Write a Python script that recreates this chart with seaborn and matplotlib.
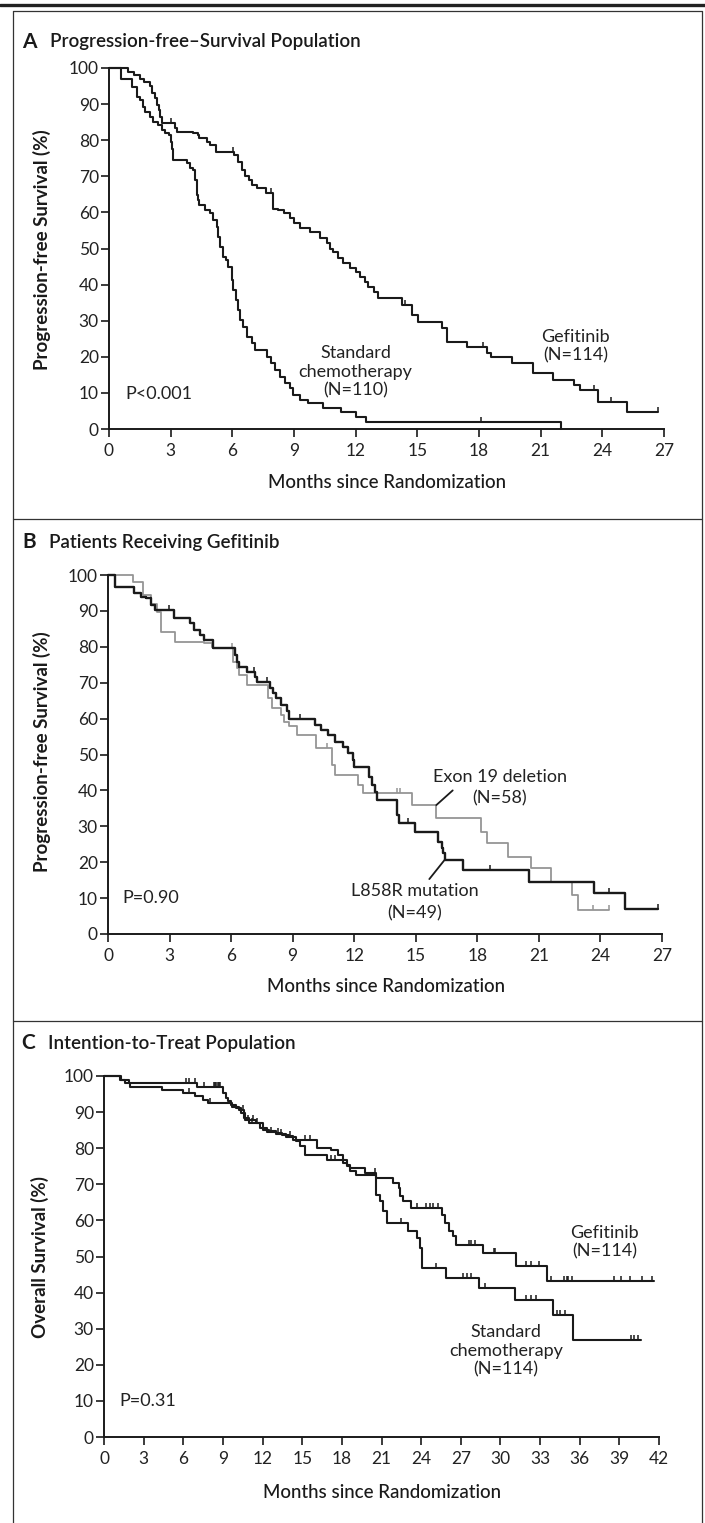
import numpy as np
import matplotlib
matplotlib.use("Agg")
import matplotlib.pyplot as plt
import seaborn as sns
from matplotlib import font_manager
from matplotlib.lines import Line2D

# ---------------------------------------------------------------------------
# data (months, percent)
# ---------------------------------------------------------------------------
# Panel A: progression-free survival
a_gef_t = [0, 0.9, 1.2, 1.5, 1.7, 2.0, 2.1, 2.25, 2.35, 2.45, 2.5, 2.6, 3.2, 3.3, 4.1,
           4.35, 4.4, 4.75, 4.9, 5.2, 6.1, 6.3, 6.45, 6.6, 6.8, 6.95, 7.2, 7.65, 8.0,
           8.2, 8.5, 8.8, 9.0, 9.3, 9.8, 10.25, 10.6, 10.75, 10.9, 11.15, 11.4, 11.7,
           12.0, 12.2, 12.45, 12.6, 12.9, 13.1, 14.24, 14.72, 15.05, 16.18, 16.42,
           17.4, 18.37, 18.6, 19.6, 20.64, 21.6, 22.6, 22.9, 23.8, 25.2]
a_gef_s = [100, 99, 98, 97, 96, 95, 93, 91.6, 89.7, 88.4, 86.5, 84.7, 83.3, 82.4, 81.9,
           81.4, 80.5, 79.6, 78.7, 76.8, 76.0, 74.0, 71.7, 70.0, 69.0, 67.6, 66.7, 65.3,
           61.0, 60.7, 59.7, 58.4, 57.0, 55.6, 54.7, 52.8, 51.4, 50.0, 49.0, 47.3, 45.9,
           44.5, 43.6, 42.2, 40.8, 39.4, 38.0, 36.2, 34.3, 31.6, 29.7, 27.9, 24.2, 22.8,
           21.0, 20.0, 18.2, 15.4, 13.6, 12.2, 10.8, 7.6, 4.8]
a_gef_end = 26.7
a_gef_cens = [3.0, 6.05, 7.9, 10.6, 14.4, 18.2, 23.6, 24.4, 26.7]

a_chemo_t = [0, 0.6, 1.1, 1.35, 1.5, 1.67, 1.75, 2.0, 2.16, 2.4, 2.56, 2.7, 2.9, 3.0,
             3.05, 3.13, 3.8, 3.95, 4.1, 4.2, 4.26, 4.35, 4.4, 4.67, 4.9, 5.07, 5.23,
             5.3, 5.4, 5.56, 5.7, 5.8, 5.96, 6.05, 6.2, 6.3, 6.37, 6.53, 6.7, 6.94, 7.1,
             7.67, 7.9, 8.07, 8.3, 8.56, 8.8, 8.96, 9.3, 9.7, 10.4, 11.3, 12.0, 12.5, 22.0]
a_chemo_s = [100, 97, 94.8, 92.0, 91.0, 89.3, 87.9, 86.5, 85.1, 84.2, 82.8, 81.9, 81.4,
             79.6, 77.7, 74.5, 73.6, 72.2, 71.7, 69.0, 64.8, 63.4, 62.0, 60.7, 59.7, 57.9,
             56.0, 53.3, 50.5, 47.7, 46.8, 45.0, 41.3, 38.5, 35.7, 33.0, 30.2, 28.3, 25.6,
             23.7, 21.9, 20.0, 18.2, 16.3, 14.5, 12.7, 11.3, 9.4, 8.0, 7.1, 5.7, 4.8, 3.4,
             2.0, 0.0]
a_chemo_end = 22.0
a_chemo_cens = [18.1]

# Panel B: gefitinib patients by mutation type
b_l858r_t = [0, 0.34, 1.25, 1.6, 1.85, 2.1, 2.3, 3.2, 4.0, 4.2, 4.5, 4.7, 5.1, 6.2, 6.3,
             6.4, 6.75, 7.15, 7.25, 7.9, 8.05, 8.2, 8.45, 8.7, 8.8, 10.1, 10.4, 10.7,
             11.05, 11.45, 11.7, 11.95, 12.0, 12.7, 12.85, 13.0, 13.1, 14.1, 14.2, 14.96,
             16.1, 16.3, 16.35, 16.4, 17.3, 20.5, 23.7, 25.2]
b_l858r_s = [100, 96.7, 94.9, 94.0, 93.5, 91.6, 90.2, 88.0, 86.5, 84.7, 83.3, 81.9, 79.6,
             77.7, 75.9, 74.5, 73.0, 71.7, 70.3, 68.4, 67.0, 65.6, 63.8, 62.0, 60.0, 58.2,
             56.8, 55.4, 53.6, 52.2, 50.3, 48.5, 46.6, 43.8, 41.5, 39.6, 37.3, 33.1, 30.8,
             28.5, 25.7, 23.9, 22.5, 20.6, 17.8, 14.6, 11.3, 7.1]
b_l858r_end = 26.8
b_l858r_cens = [2.95, 7.1, 7.75, 9.35, 14.64, 18.6, 24.4, 26.8]

b_exon19_t = [0, 1.23, 1.72, 2.1, 2.37, 2.6, 3.26, 4.7, 5.05, 5.1, 6.1, 6.27, 6.4, 6.75,
              7.8, 8.0, 8.45, 8.6, 8.8, 9.2, 10.15, 10.9, 11.05, 12.2, 12.45, 14.8, 16.0,
              18.2, 18.46, 19.5, 20.6, 21.6, 22.6, 22.9]
b_exon19_s = [100, 98.1, 94.4, 92.0, 89.8, 84.2, 81.4, 81.0, 80.0, 79.6, 75.9, 74.0, 72.1,
              69.4, 65.6, 62.9, 61.0, 59.1, 57.8, 55.4, 51.7, 47.1, 44.3, 41.5, 39.2, 35.9,
              32.2, 28.5, 25.3, 21.5, 18.3, 14.6, 10.9, 6.7]
b_exon19_end = 24.4
b_exon19_cens = [6.02, 10.65, 14.1, 14.23, 23.65, 24.4]

# Panel C: overall survival
c_gef_t = [0, 1.3, 1.9, 7.0, 9.0, 9.2, 9.4, 9.6, 10.0, 10.4, 10.7, 11.5, 12.0, 12.5, 13.0,
           13.5, 14.0, 14.3, 16.1, 17.2, 17.7, 18.1, 18.4, 18.6, 19.75, 20.6, 21.9, 22.3,
           22.4, 22.6, 23.2, 25.6, 25.8, 26.1, 26.4, 26.6, 28.7, 31.2, 33.5]
c_gef_s = [100, 99, 98.1, 96.9, 95.3, 94.0, 93.0, 92.0, 91.0, 89.8, 87.9, 87.0, 85.1, 84.7,
           84.2, 83.7, 83.3, 82.4, 80.0, 79.6, 78.2, 76.8, 75.4, 74.5, 73.1, 71.7, 70.4,
           69.0, 66.7, 65.3, 63.4, 61.6, 59.3, 57.0, 55.6, 53.3, 51.0, 47.3, 43.1]
c_gef_end = 41.6
c_gef_cens = [6.2, 6.4, 6.9, 7.6, 8.3, 8.4, 8.5, 8.6, 8.7, 8.8, 10.9, 11.3, 11.6, 13.2, 14.1,
              15.2, 15.6, 20.5, 23.7, 24.4, 24.7, 24.9, 25.3, 27.6, 27.8, 28.1, 29.5, 29.6,
              31.9, 32.3, 32.9, 33.8, 34.8, 35.0, 35.15, 35.4, 38.6, 39.1, 39.8, 40.7, 41.5]

c_chemo_t = [0, 1.2, 1.6, 2.0, 4.4, 6.0, 6.9, 7.5, 7.9, 9.7, 10.2, 10.6, 11.0, 11.8, 12.3,
             13.0, 13.8, 14.5, 14.84, 15.2, 16.9, 18.1, 18.4, 18.6, 19.1, 20.6, 20.9, 21.1,
             21.4, 23.0, 23.7, 23.9, 24.05, 25.9, 28.4, 31.1, 34.0, 35.5]
c_chemo_s = [100, 99, 98.1, 96.9, 96.2, 95.3, 94.4, 93.4, 92.5, 91.5, 90.5, 88.5, 87.0,
             85.5, 84.5, 83.8, 83.0, 82.0, 80.5, 78.2, 76.8, 75.9, 75.0, 73.8, 72.7, 67.1,
             65.3, 62.5, 59.3, 57.0, 55.1, 52.4, 46.8, 44.0, 41.3, 38.0, 33.9, 27.0]
c_chemo_end = 40.6
c_chemo_cens = [6.4, 8.0, 10.5, 11.2, 12.6, 13.4, 17.2, 17.5, 22.5, 25.1, 27.2, 27.45, 27.8,
                28.8, 31.9, 32.3, 32.7, 34.3, 34.5, 34.9, 39.9, 40.1, 40.4]

a_ticks = [0, 3, 6, 9, 12, 15, 18, 21, 24, 27]
c_ticks = [0, 3, 6, 9, 12, 15, 18, 21, 24, 27, 30, 33, 36, 39, 42]
y_ticks = [0, 10, 20, 30, 40, 50, 60, 70, 80, 90, 100]


def pick(*names):
    for n in names:
        try:
            font_manager.findfont(n, fallback_to_default=False)
            return n
        except Exception:
            pass
    return "DejaVu Sans"


sns.set_theme(style="ticks")
main_font = pick("Lato", "Open Sans", "Liberation Sans")
plt.rcParams["font.family"] = [main_font, "DejaVu Sans"]

W, H = 705, 1523
fig = plt.figure(figsize=(W / 100, H / 100), dpi=100)
fig.patch.set_facecolor("white")
INK = "#1a1a1a"


def fx(px):
    return px / W


def fy(py):
    return 1 - py / H


def step_value(t, s, when):
    i = np.searchsorted(t, when, side="right") - 1
    return s[i]


def km_curve(ax, t, s, end, cens, color, lw=1.5):
    t = np.asarray(t, float)
    s = np.asarray(s, float)
    xs = np.append(t, end)
    ys = np.append(s, s[-1])
    sns.lineplot(x=xs, y=ys, drawstyle="steps-post", estimator=None, sort=False,
                 color=color, lw=lw, ax=ax, clip_on=False)
    cy = [step_value(t, s, c) for c in cens]
    ax.plot(cens, cy, linestyle="none", marker=[(0, 0), (0, 1)], markersize=7,
            markeredgewidth=1.1, color=color, clip_on=False)


def setup_axes(box, xmax, xticks):
    ax = fig.add_axes(box)
    ax.set_xlim(0, xmax)
    ax.set_ylim(0, 100)
    ax.set_xticks(xticks)
    ax.set_yticks(y_ticks)
    for side in ("top", "right"):
        ax.spines[side].set_visible(False)
    for side in ("left", "bottom"):
        ax.spines[side].set_linewidth(1.4)
        ax.spines[side].set_color(INK)
    ax.tick_params(direction="out", length=5.8, width=1.2, color=INK,
                   labelsize=12.5, labelcolor="#222222")
    ax.tick_params(axis="y", pad=1.5)
    ax.tick_params(axis="x", pad=4.5)
    ax.set_facecolor("white")
    ax.set_xlabel("")
    ax.set_ylabel("")
    return ax


def axes_box(left, right, top0, bottom0):
    return [fx(left), fy(bottom0), fx(right) - fx(left), fy(top0) - fy(bottom0)]


panel_text = dict(fontsize=13, color="#222222")
title_kw = dict(fontsize=13.5, fontweight="semibold", color=INK, va="center")
letter_kw = dict(fontsize=15, fontweight="bold", color=INK, va="center")
ylab_kw = dict(fontsize=13.5, fontweight="bold", rotation=90, ha="center", va="center",
               color=INK)
xlab_kw = dict(fontsize=13.5, fontweight="medium", ha="center", va="center", color=INK)

# ---------------- Panel A ----------------
axA = setup_axes(axes_box(109, 664, 68, 429), 27, a_ticks)
km_curve(axA, a_gef_t, a_gef_s, a_gef_end, a_gef_cens, INK)
km_curve(axA, a_chemo_t, a_chemo_s, a_chemo_end, a_chemo_cens, INK)
axA.text(0.78, 9.7, "P<0.001", ha="left", va="center", **panel_text)
axA.text(12.0, 15.9, "Standard\nchemotherapy\n(N=110)", ha="center", va="center",
         linespacing=1.2, **panel_text)
axA.text(22.7, 22.9, "Gefitinib\n(N=114)", ha="center", va="center", linespacing=1.2,
         **panel_text)
fig.text(fx(22), fy(42), "A", **letter_kw)
fig.text(fx(50), fy(42), "Progression-free\u2013Survival Population", **title_kw)
fig.text(fx(42), fy(250), "Progression-free Survival (%)", **ylab_kw)
fig.text(fx(387), fy(482), "Months since Randomization", **xlab_kw)

# ---------------- Panel B ----------------
axB = setup_axes(axes_box(108, 662, 575, 934), 27, a_ticks)
km_curve(axB, b_exon19_t, b_exon19_s, b_exon19_end, b_exon19_cens, "#959595", lw=1.3)
km_curve(axB, b_l858r_t, b_l858r_s, b_l858r_end, b_l858r_cens, INK, lw=1.7)
axB.text(0.72, 10.0, "P=0.90", ha="left", va="center", **panel_text)
axB.text(19.1, 43.8, "Exon 19 deletion", ha="center", va="center", **panel_text)
axB.text(19.1, 37.9, "(N=58)", ha="center", va="center", **panel_text)
axB.text(14.96, 12.1, "L858R mutation", ha="center", va="center", **panel_text)
axB.text(14.96, 5.8, "(N=49)", ha="center", va="center", **panel_text)
axB.annotate("", xy=(16.0, step_value(b_exon19_t, b_exon19_s, 15.95)), xytext=(16.8, 40.0),
             arrowprops=dict(arrowstyle="-", lw=1.3, color=INK, shrinkA=0, shrinkB=0))
axB.annotate("", xy=(16.4, step_value(b_l858r_t, b_l858r_s, 16.4)), xytext=(15.66, 15.3),
             arrowprops=dict(arrowstyle="-", lw=1.3, color=INK, shrinkA=0, shrinkB=0))
fig.text(fx(22), fy(542), "B", **letter_kw)
fig.text(fx(49), fy(542), "Patients Receiving Gefitinib", **title_kw)
fig.text(fx(42), fy(752), "Progression-free Survival (%)", **ylab_kw)
fig.text(fx(386), fy(987), "Months since Randomization", **xlab_kw)

# ---------------- Panel C ----------------
axC = setup_axes(axes_box(104, 659, 1076, 1437), 42, c_ticks)
km_curve(axC, c_chemo_t, c_chemo_s, c_chemo_end, c_chemo_cens, INK)
km_curve(axC, c_gef_t, c_gef_s, c_gef_end, c_gef_cens, INK)
axC.text(1.2, 9.9, "P=0.31", ha="left", va="center", **panel_text)
axC.text(37.9, 54.0, "Gefitinib\n(N=114)", ha="center", va="center", linespacing=1.2,
         **panel_text)
axC.text(30.4, 23.9, "Standard\nchemotherapy\n(N=114)", ha="center", va="center",
         linespacing=1.2, **panel_text)
fig.text(fx(21), fy(1043), "C", **letter_kw)
fig.text(fx(48), fy(1043), "Intention-to-Treat Population", **title_kw)
fig.text(fx(40), fy(1257), "Overall Survival (%)", **ylab_kw)
fig.text(fx(382), fy(1492), "Months since Randomization", **xlab_kw)

# ---------------- frame lines ----------------
frame = "#333333"
fig.add_artist(Line2D([0, 1], [fy(5), fy(5)], color="#222222", lw=2.4))
for py in (11, 519, 1021):
    fig.add_artist(Line2D([fx(13), fx(702)], [fy(py), fy(py)], color=frame, lw=0.9))
fig.add_artist(Line2D([fx(13), fx(13)], [fy(11), 0], color=frame, lw=0.9))
fig.add_artist(Line2D([fx(702), fx(702)], [fy(11), 0], color=frame, lw=0.9))

fig.savefig("out.png", dpi=100, facecolor="white")
